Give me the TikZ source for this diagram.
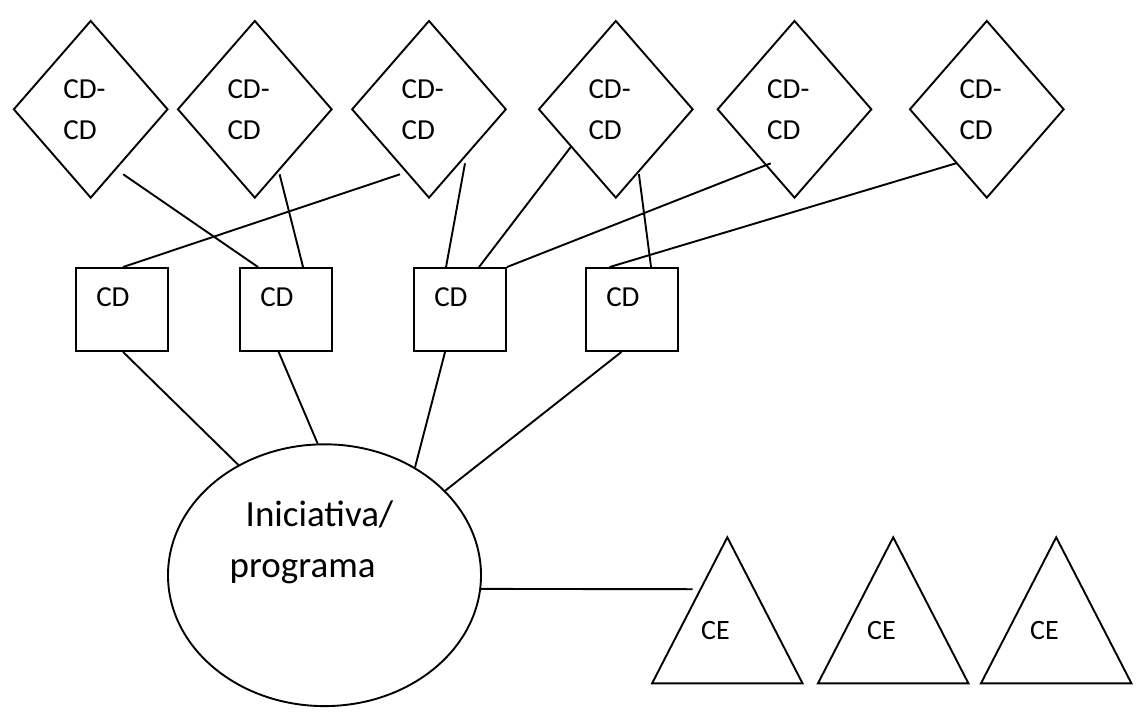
\documentclass[tikz,border=0pt]{standalone}
\usepackage{fontspec}
\setmainfont{Carlito}
\usetikzlibrary{shapes.geometric}

\tikzset{
  outline/.style={draw, line width=1.9pt, inner sep=0pt},
  diam/.style={outline, diamond, minimum width=154.5pt, minimum height=177.5pt},
  box/.style={outline, rectangle, minimum width=92pt, minimum height=83pt},
  oval/.style={outline, ellipse, minimum width=313pt, minimum height=261.8pt},
  link/.style={line width=1.9pt},
  small/.style={inner sep=0pt, anchor=base west, font=\fontsize{29}{34}\selectfont},
  big/.style={inner sep=0pt, anchor=base west, font=\fontsize{37}{45}\selectfont},
  tri/.style={line width=1.9pt, line join=miter},
  trilabel/.style={inner sep=0pt, anchor=base west, font=\fontsize{28}{32}\selectfont},
}

\begin{document}
\begin{tikzpicture}[x=1pt, y=-1pt]
\useasboundingbox (0,0) rectangle (1137,720);

% upper row: diamonds
\foreach \n/\x in {1/90.7, 2/254.8, 3/429, 4/615.8, 5/794.5, 6/986.8} {
  \node[diam] (d\n) at (\x,109.3) {};
  \node[small] (d\n a) at ([shift={(-27.5,-10.5)}]d\n.center) {CD-};
  \node[small] (d\n b) at ([shift={(-27.5,29.7)}]d\n.center) {CD};
}

% middle row: boxes
\foreach \n/\x in {1/122, 2/286, 3/460, 4/632} {
  \node[box] (r\n) at (\x,309.5) {};
  \node[small] (r\n t) at ([shift={(21,39.3)}]r\n.north west) {CD};
}

% central ellipse
\node[oval] (ell) at (324.5,575.2) {};
\node[big] (ellt1) at (245.5,526.3) {Iniciativa/};
\node[big] (ellt2) at (229.5,577.5) {programa};

% triangles
\foreach \n/\x in {1/727.3, 2/893.2, 3/1056.2} {
  \draw[tri] (\x,537.3) coordinate (t\n) -- (\x+75.2,683.3) -- (\x-75.2,683.3) -- cycle;
  \node[trilabel] (ce\n) at ([shift={(-26.3,101.7)}]t\n) {CE};
}
\coordinate (t1w) at (692.7,589.2);

% diamonds to boxes
\draw[link] ([shift={(32.5,65)}]d1.center) -- ([xshift=19pt]r2.north west);
\draw[link] ([shift={(24.8,65)}]d2.center) -- ([xshift=64pt]r2.north west);
\draw[link] ([shift={(-29,65)}]d3.center) -- ([xshift=48pt]r1.north west);
\draw[link] ([shift={(36,54)}]d3.center) -- ([xshift=33pt]r3.north west);
\draw[link] ([shift={(-44.8,37.4)}]d4.center) -- ([xshift=66pt]r3.north west);
\draw[link] ([shift={(-23.8,54)}]d5.center) -- (r3.north east);
\draw[link] ([shift={(23.1,64.7)}]d4.center) -- ([xshift=66pt]r4.north west);
\draw[link] ([shift={(-30.8,54)}]d6.center) -- ([xshift=24.5pt]r4.north west);

% boxes to ellipse
\draw[link] ([xshift=48pt]r1.south west) -- (ell.128.5);
\draw[link] ([xshift=39.6pt]r2.south west) -- (ell.93);
\draw[link] ([xshift=32pt]r3.south west) -- (ell.50);
\draw[link] ([xshift=36.4pt]r4.south west) -- (ell.35);

% ellipse to first triangle
\draw[link] (ell.-5) -- (t1w);
\end{tikzpicture}
\end{document}
